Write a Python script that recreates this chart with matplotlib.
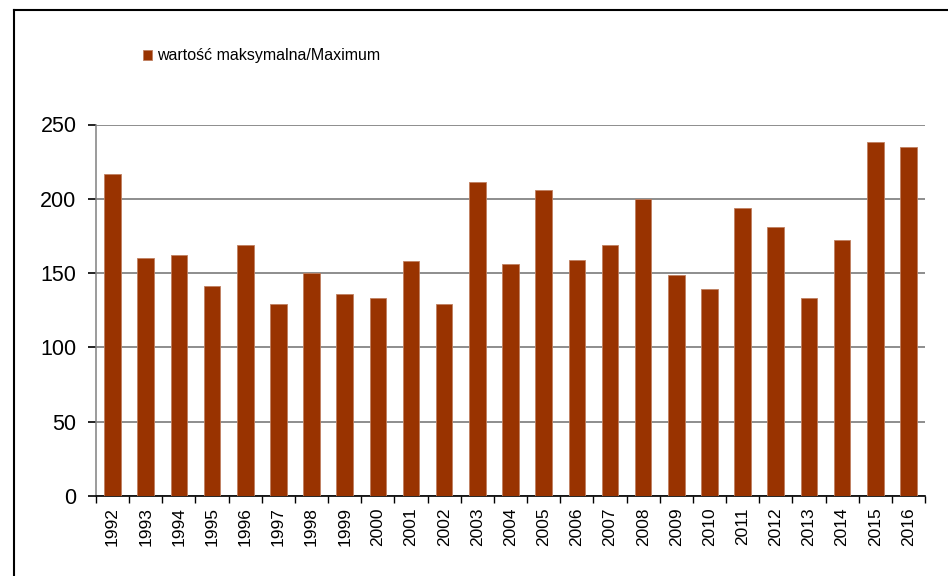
import numpy as np
import matplotlib.pyplot as plt
from matplotlib.lines import Line2D

years = [str(y) for y in range(1992, 2017)]
maximum = [217, 160, 162, 141, 169, 129, 150, 136, 133, 158, 129, 211, 156,
           206, 159, 169, 200, 149, 139, 194, 181, 133, 172, 238, 235]
legend_label = 'wartość maksymalna/Maximum'
bar_color = '#993300'

plt.rcParams['font.family'] = ['Liberation Sans', 'DejaVu Sans']

fig = plt.figure(figsize=(9.48, 5.76), dpi=100)
ax = fig.add_axes([96/948, 1 - 496/576, (925 - 96)/948, (496 - 124.5)/576])

x = np.arange(len(years))
ax.bar(x, maximum, width=0.5, color=bar_color, edgecolor='#c08060',
       linewidth=0.6, label=legend_label, zorder=3)

ax.set_xlim(-0.5, len(years) - 0.5)
ax.set_ylim(0, 250)
ax.set_yticks(np.arange(0, 251, 50))
ax.tick_params(axis='y', labelsize=15.5, length=6, width=1.2, color='black', pad=8)
ax.set_xticks(x)
ax.set_xticklabels(years, rotation=90, fontsize=12.5)
ax.set_xticks(np.arange(-0.5, len(years), 1), minor=True)
ax.tick_params(axis='x', which='major', length=0, pad=8)
ax.tick_params(axis='x', which='minor', length=5, width=1, color='black')

ax.grid(axis='y', color='#7a7a7a', linewidth=1.2, zorder=0)
for s in ['top', 'right']:
    ax.spines[s].set_visible(False)
ax.spines['left'].set_color('#808080')
ax.spines['left'].set_linewidth(1.1)
ax.spines['bottom'].set_color('black')
ax.spines['bottom'].set_linewidth(1.2)

fig.legend(loc='upper left', bbox_to_anchor=(137/948, 1 - 42/576), frameon=False,
           fontsize=11.5, handlelength=0.55, handleheight=0.55, handletextpad=0.3,
           borderaxespad=0)

# outer frame (left and top edges only)
fig.add_artist(Line2D([14/948, 14/948], [0, 1 - 10/576], color='black', linewidth=1.5,
                      transform=fig.transFigure))
fig.add_artist(Line2D([14/948, 1], [1 - 10/576, 1 - 10/576], color='black', linewidth=1.5,
                      transform=fig.transFigure))

plt.savefig('out.png', dpi=100)
